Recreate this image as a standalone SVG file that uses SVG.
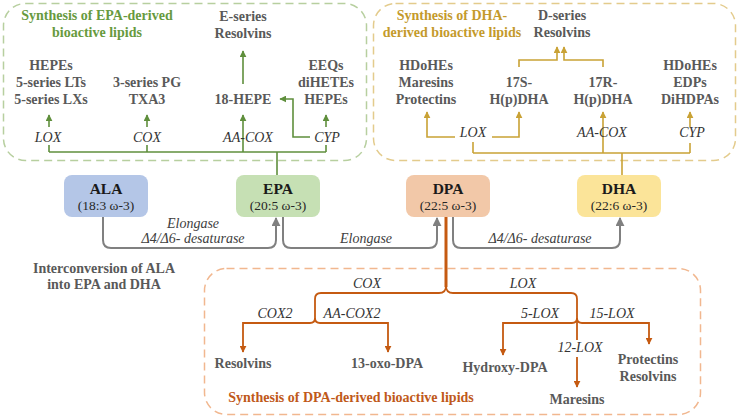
<svg xmlns="http://www.w3.org/2000/svg" width="740" height="418" viewBox="0 0 740 418" font-family="'Liberation Serif', 'DejaVu Serif', serif">
<defs>
<style>
.p{font-family:'Liberation Serif','DejaVu Serif',serif;font-size:14px;font-weight:bold;fill:#595959;text-anchor:middle;}
.e{font-family:'Liberation Serif','DejaVu Serif',serif;font-size:14px;font-style:italic;fill:#333;text-anchor:middle;}
.ge{font-family:'Liberation Serif','DejaVu Serif',serif;font-size:14px;font-style:italic;fill:#404040;text-anchor:middle;}
.nt{font-family:'Liberation Serif','DejaVu Serif',serif;font-size:15.5px;font-weight:bold;fill:#1a1a1a;text-anchor:middle;}
.ns{font-family:'Liberation Serif','DejaVu Serif',serif;font-size:13.5px;fill:#262626;text-anchor:middle;}
.tg{font-family:'Liberation Serif','DejaVu Serif',serif;font-size:14px;font-weight:bold;fill:#679a3e;text-anchor:middle;}
.ty{font-family:'Liberation Serif','DejaVu Serif',serif;font-size:14px;font-weight:bold;fill:#c49a2c;text-anchor:middle;}
.to{font-family:'Liberation Serif','DejaVu Serif',serif;font-size:14px;font-weight:bold;fill:#c0591a;text-anchor:middle;}
.box{fill:#fff;stroke-width:1.5;stroke-dasharray:8 5;}
.lg{fill:none;stroke:#5f8f3c;stroke-width:1.6;}
.ly{fill:none;stroke:#c9a235;stroke-width:1.6;}
.lo{fill:none;stroke:#c55a11;stroke-width:1.8;}
.lgr{fill:none;stroke:#808080;stroke-width:2;}
</style>
<marker id="ag" viewBox="0 0 10 10" refX="9" refY="5" markerWidth="7" markerHeight="7" markerUnits="userSpaceOnUse" orient="auto"><path d="M0,0 L10,5 L0,10 z" fill="#5f8f3c"/></marker>
<marker id="ay" viewBox="0 0 10 10" refX="9" refY="5" markerWidth="7" markerHeight="7" markerUnits="userSpaceOnUse" orient="auto"><path d="M0,0 L10,5 L0,10 z" fill="#c9a235"/></marker>
<marker id="ao" viewBox="0 0 10 10" refX="9" refY="5" markerWidth="7" markerHeight="7" markerUnits="userSpaceOnUse" orient="auto"><path d="M0,0 L10,5 L0,10 z" fill="#c55a11"/></marker>
<marker id="agr" viewBox="0 0 10 10" refX="9" refY="5" markerWidth="9" markerHeight="9" markerUnits="userSpaceOnUse" orient="auto"><path d="M0,0 L10,5 L0,10 z" fill="#808080"/></marker>
</defs>
<rect width="740" height="418" fill="#fff"/>

<g id="frames">
<rect class="box" x="3.5" y="3.5" width="363" height="157" rx="22" stroke="#b7cf9f"/>
<rect class="box" x="373.5" y="3.5" width="362" height="157" rx="22" stroke="#e3cb8c"/>
<rect class="box" x="204.5" y="268.5" width="496" height="146" rx="22" stroke="#f1b78f"/>
</g>

<g id="titles">
<text class="tg" x="97" y="20">Synthesis of EPA-derived</text>
<text class="tg" x="97" y="37">bioactive lipids</text>
<text class="ty" x="452" y="20">Synthesis of DHA-</text>
<text class="ty" x="452" y="37">derived bioactive lipids</text>
<text class="to" x="351" y="402">Synthesis of DPA-derived bioactive lipids</text>
<text class="p" x="104" y="273">Interconversion of ALA</text>
<text class="p" x="104" y="289">into EPA and DHA</text>
</g>

<g id="ALA">
<rect x="64" y="175" width="84" height="42" rx="8" fill="#b4c6e7"/>
<text class="nt" x="106" y="194">ALA</text>
<text class="ns" x="106" y="210">(18:3 ω-3)</text>
</g>
<g id="EPA">
<rect x="236" y="175" width="84" height="42" rx="8" fill="#c6e0b4"/>
<text class="nt" x="278" y="194">EPA</text>
<text class="ns" x="278" y="210">(20:5 ω-3)</text>
</g>
<g id="DPA">
<rect x="406" y="175" width="84" height="42" rx="8" fill="#f2c8a8"/>
<text class="nt" x="448" y="194">DPA</text>
<text class="ns" x="448" y="210">(22:5 ω-3)</text>
</g>
<g id="DHA">
<rect x="577" y="175" width="84" height="42" rx="8" fill="#fbe499"/>
<text class="nt" x="619" y="194">DHA</text>
<text class="ns" x="619" y="210">(22:6 ω-3)</text>
</g>

<g id="epa-lox-products"><text class="p" x="51" y="70">HEPEs</text><text class="p" x="51" y="87">5-series LTs</text><text class="p" x="51" y="104">5-series LXs</text></g>
<g id="epa-cox-products"><text class="p" x="147" y="87">3-series PG</text><text class="p" x="147" y="104">TXA3</text></g>
<g id="hepe18"><text class="p" x="243" y="104">18-HEPE</text></g>
<g id="e-resolvins"><text class="p" x="243" y="21">E-series</text><text class="p" x="243" y="38">Resolvins</text></g>
<g id="epa-cyp-products"><text class="p" x="326" y="70">EEQs</text><text class="p" x="326" y="87">diHETEs</text><text class="p" x="326" y="104">HEPEs</text></g>

<g id="dha-lox-products"><text class="p" x="426" y="70">HDoHEs</text><text class="p" x="426" y="87">Maresins</text><text class="p" x="426" y="104">Protectins</text></g>
<g id="h17s"><text class="p" x="519" y="87">17S-</text><text class="p" x="519" y="104">H(p)DHA</text></g>
<g id="h17r"><text class="p" x="603" y="87">17R-</text><text class="p" x="603" y="104">H(p)DHA</text></g>
<g id="d-resolvins"><text class="p" x="562" y="20">D-series</text><text class="p" x="562" y="37">Resolvins</text></g>
<g id="dha-cyp-products"><text class="p" x="690" y="70">HDoHEs</text><text class="p" x="690" y="87">EDPs</text><text class="p" x="690" y="104">DiHDPAs</text></g>

<g id="dpa-resolvins"><text class="p" x="243" y="368">Resolvins</text></g>
<g id="oxo13"><text class="p" x="387" y="368">13-oxo-DPA</text></g>
<g id="hydroxy"><text class="p" x="505" y="372">Hydroxy-DPA</text></g>
<g id="maresins"><text class="p" x="577" y="404">Maresins</text></g>
<g id="protectins"><text class="p" x="648" y="364">Protectins</text><text class="p" x="648" y="381">Resolvins</text></g>

<g id="connectors">
<path class="lg" d="M277,175 V152"/>
<path class="lg" d="M49,152 H326"/>
<path class="lg" d="M49,152 V145"/>
<path class="lg" d="M49,127 V115" marker-end="url(#ag)"/>
<path class="lg" d="M147,152 V145"/>
<path class="lg" d="M147,127 V115" marker-end="url(#ag)"/>
<path class="lg" d="M243,152 V115" marker-end="url(#ag)"/>
<path class="lg" d="M326,152 V145"/>
<path class="lg" d="M326,127 V115" marker-end="url(#ag)"/>
<path class="lg" d="M310,137 H293 V99 H280" marker-end="url(#ag)"/>
<path class="lg" d="M243,84 V51" marker-end="url(#ag)"/>
<path class="ly" d="M622,175 V153"/>
<path class="ly" d="M473,153 H690"/>
<path class="ly" d="M473,153 V142"/>
<path class="ly" d="M455,137 H427 V112" marker-end="url(#ay)"/>
<path class="ly" d="M492,137 H519 V112" marker-end="url(#ay)"/>
<path class="ly" d="M603,153 V112" marker-end="url(#ay)"/>
<path class="ly" d="M690,153 V143"/>
<path class="ly" d="M690,127 V112" marker-end="url(#ay)"/>
<path class="ly" d="M519,67 V60 H557 V47" marker-end="url(#ay)"/>
<path class="ly" d="M603,67 V60 H564 V47" marker-end="url(#ay)"/>
<path class="lgr" d="M103,217 V240 Q103,248 111,248 H268 Q276,248 276,240 V218" marker-end="url(#agr)"/>
<path class="lgr" d="M283,217 V240 Q283,248 291,248 H429 Q437,248 437,240 V218" marker-end="url(#agr)"/>
<path class="lgr" d="M453,217 V240 Q453,248 461,248 H612 Q620,248 620,240 V218" marker-end="url(#agr)"/>
<path class="lo" d="M446,217 V287" style="stroke-width:3"/>
<path class="lo" d="M446,286 Q446,293 439,293 H321 Q315,293 315,299 V318 Q315,323 310,323 H243 V352" marker-end="url(#ao)"/>
<path class="lo" d="M315,318 Q315,323 320,323 H388 V352" marker-end="url(#ao)"/>
<path class="lo" d="M446,286 Q446,293 453,293 H571 Q577,293 577,299 V318 Q577,323 572,323 H503 V355" marker-end="url(#ao)"/>
<path class="lo" d="M577,318 Q577,323 582,323 H649 V344" marker-end="url(#ao)"/>
<path class="lo" d="M577,318 V340"/>
<path class="lo" d="M577,357 V387" marker-end="url(#ao)"/>
</g>

<g id="enzyme-labels">
<text class="e" x="48" y="142">LOX</text>
<text class="e" x="147" y="142">COX</text>
<text class="e" x="248" y="142">AA-COX</text>
<text class="e" x="327" y="142">CYP</text>
<text class="e" x="473" y="137">LOX</text>
<text class="e" x="602" y="137">AA-COX</text>
<text class="e" x="692" y="137">CYP</text>
<text class="ge" x="193" y="228">Elongase</text>
<text class="ge" x="193" y="243">Δ4/Δ6- desaturase</text>
<text class="ge" x="366" y="243">Elongase</text>
<text class="ge" x="540" y="243">Δ4/Δ6- desaturase</text>
<text class="e" x="367" y="288">COX</text>
<text class="e" x="523" y="288">LOX</text>
<text class="e" x="275" y="318">COX2</text>
<text class="e" x="352" y="318">AA-COX2</text>
<text class="e" x="540" y="318">5-LOX</text>
<text class="e" x="612" y="318">15-LOX</text>
<text class="e" x="580" y="352">12-LOX</text>
</g>
</svg>
